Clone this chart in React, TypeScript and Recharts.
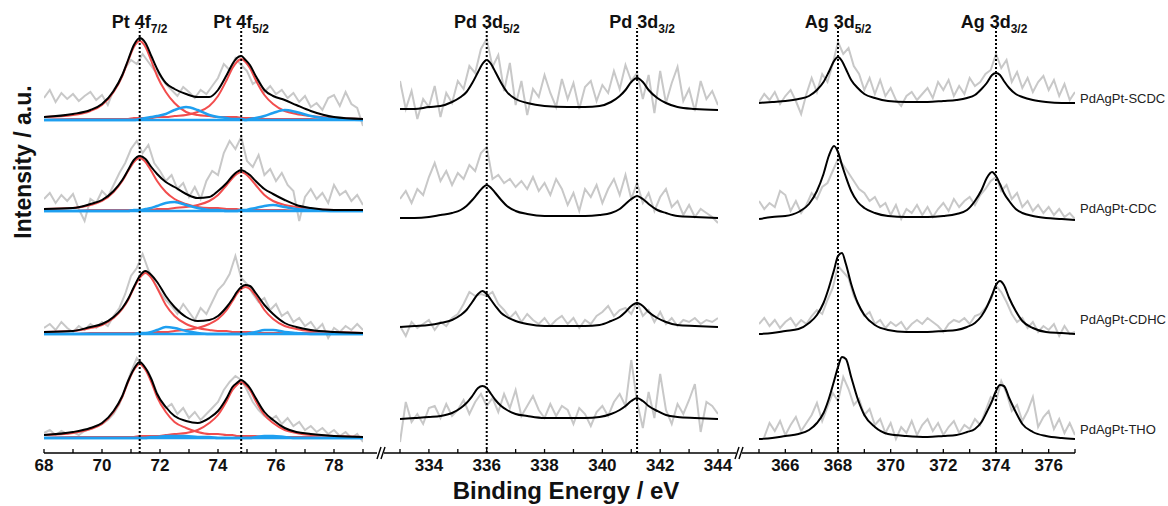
import { LineChart, Line, XAxis, YAxis, ReferenceLine } from "recharts"

const FONT = "'Liberation Sans', Arial, sans-serif"
const GRAY = "#c8c8c8"
const RED = "#f24d4d"
const BLUE = "#1e9ff0"

const sampleNames = ["PdAgPt-SCDC", "PdAgPt-CDC", "PdAgPt-CDHC", "PdAgPt-THO"]

// ---- Pt 4f ----
const ptEnergy = [68, 68.2, 68.4, 68.6, 68.8, 69, 69.2, 69.4, 69.6, 69.8, 70, 70.2, 70.4, 70.6, 70.8, 71, 71.2, 71.4, 71.6, 71.8, 72, 72.2, 72.4, 72.6, 72.8, 73, 73.2, 73.4, 73.6, 73.8, 74, 74.2, 74.4, 74.6, 74.8, 75, 75.2, 75.4, 75.6, 75.8, 76, 76.2, 76.4, 76.6, 76.8, 77, 77.2, 77.4, 77.6, 77.8, 78, 78.2, 78.4, 78.6, 78.8, 79]
const ptOffset = [333, 242, 119, 15]
const ptRaw = [
  [22, 30, 18, 27, 21, 26, 19, 24, 28, 20, 25, 15, 30, 38, 52, 60, 56, 66, 58, 50, 44, 36, 30, 24, 33, 28, 22, 30, 26, 34, 42, 56, 50, 62, 55, 49, 36, 40, 28, 34, 26, 30, 22, 27, 18, 24, 13, 17, 10, 22, 25, 14, 28, 16, 12, -6],
  [12, 18, 8, 16, 10, 17, 2, -10, 12, 8, 20, 14, 26, 38, 48, 62, 70, 58, 66, 48, 40, 30, 36, 22, 28, 14, 24, 12, 30, 40, 36, 58, 70, 62, 74, 50, 44, 56, 36, 42, 30, 38, 26, 20, -10, 14, 22, 12, 18, 8, 26, 16, 20, 10, 16, 6],
  [6, 10, 4, 12, 6, 2, 8, 4, 10, 6, 12, 8, 18, 26, 40, 58, 66, 80, 64, 52, 42, 34, 28, 20, 30, 22, 14, 26, 20, 32, 44, 50, 60, 78, 56, 50, 40, 32, 36, 24, 30, 18, 22, 12, 16, 8, 12, 4, 10, -4, 6, 2, 8, 4, 10, 4],
  [5, 8, 3, 7, 4, 6, 3, 7, 9, 12, 14, 18, 24, 34, 50, 66, 80, 72, 66, 52, 38, 30, 34, 24, 30, 20, 26, 18, 24, 30, 36, 48, 56, 62, 58, 48, 36, 28, 22, 18, 22, 14, 20, 12, 16, 8, 12, 6, 10, 4, 8, 2, 6, 0, 4, -4],
]
const ptFitEnergy = [68, 69, 69.6, 70, 70.4, 70.7, 70.9, 71.1, 71.3, 71.5, 71.7, 71.9, 72.2, 72.5, 72.9, 73.3, 73.7, 74, 74.3, 74.5, 74.65, 74.8, 74.95, 75.1, 75.3, 75.6, 75.9, 76.3, 76.7, 77.2, 78, 79]
const ptFit = [
  [3, 6, 10, 16, 29, 45, 60, 75, 82, 77, 64, 51, 37, 31, 26, 23, 23, 30, 45, 56, 62, 64, 60, 55, 44, 30, 24, 20, 15, 9, 3, 1],
  [2, 3, 7, 11, 20, 31, 41, 51, 55, 52, 44, 37, 29, 24, 17, 13, 14, 20, 28, 35, 39, 41, 39, 36, 30, 22, 17, 11, 6, 3, 1, 1],
  [2, 3, 7, 10, 17, 26, 35, 47, 58, 63, 59, 52, 38, 27, 17, 13, 14, 18, 27, 35, 42, 47, 49, 48, 41, 29, 20, 11, 7, 4, 2, 1],
  [3, 6, 10, 15, 27, 42, 57, 69, 76, 70, 59, 44, 31, 22, 17, 15, 20, 27, 40, 51, 55, 58, 55, 50, 40, 26, 18, 10, 6, 4, 2, 1],
]
const ptRed1 = [
  [3, 5, 9, 15, 28, 44, 59, 73, 79, 73, 59, 44, 28, 17, 8, 5, 4, 3, 3, 3, 3, 2, 2, 2, 2, 1, 1, 1, 1, 1, 0, 0],
  [2, 3, 6, 10, 19, 30, 40, 49, 53, 49, 40, 30, 19, 12, 7, 4, 3, 3, 2, 2, 2, 1, 1, 1, 1, 1, 1, 1, 0, 0, 0, 0],
  [2, 3, 6, 9, 16, 25, 34, 46, 56, 61, 56, 46, 29, 18, 10, 6, 4, 3, 3, 2, 2, 2, 2, 2, 1, 1, 1, 1, 1, 1, 0, 0],
  [3, 5, 9, 14, 26, 41, 56, 68, 74, 68, 56, 41, 26, 16, 10, 6, 4, 4, 3, 3, 2, 2, 2, 2, 2, 1, 1, 1, 1, 1, 0, 0],
]
const ptRed2 = [
  [0, 1, 1, 1, 1, 1, 1, 2, 2, 2, 2, 3, 3, 4, 5, 8, 14, 24, 40, 52, 58, 61, 58, 52, 40, 25, 16, 9, 6, 4, 2, 1],
  [0, 0, 1, 1, 1, 1, 1, 1, 1, 1, 1, 2, 2, 3, 4, 6, 10, 16, 26, 33, 37, 39, 37, 33, 26, 16, 10, 6, 4, 2, 1, 1],
  [0, 0, 1, 1, 1, 1, 1, 1, 1, 1, 1, 2, 2, 3, 4, 6, 10, 15, 24, 33, 40, 45, 47, 45, 38, 24, 15, 8, 5, 3, 2, 1],
  [0, 1, 1, 1, 1, 1, 1, 1, 2, 2, 2, 2, 3, 4, 5, 8, 15, 23, 37, 48, 53, 56, 53, 48, 37, 23, 15, 8, 5, 3, 2, 1],
]
const ptBlue1 = [
  [0, 0, 0, 0, 0, 0, 0, 0, 1, 2, 3, 4, 6, 10, 13, 10, 5, 3, 2, 1, 1, 1, 0, 0, 0, 0, 0, 0, 0, 0, 0, 0],
  [0, 0, 0, 0, 0, 0, 0, 1, 1, 2, 3, 5, 8, 9, 6, 3, 1, 1, 0, 0, 0, 0, 0, 0, 0, 0, 0, 0, 0, 0, 0, 0],
  [0, 0, 0, 0, 0, 0, 0, 0, 1, 1, 2, 4, 7, 6, 3, 1, 0, 0, 0, 0, 0, 0, 0, 0, 0, 0, 0, 0, 0, 0, 0, 0],
  [0, 0, 0, 0, 0, 0, 0, 0, 0, 0, 1, 1, 2, 2, 2, 1, 1, 0, 0, 0, 0, 0, 0, 0, 0, 0, 0, 0, 0, 0, 0, 0],
]
const ptBlue2 = [
  [0, 0, 0, 0, 0, 0, 0, 0, 0, 0, 0, 0, 0, 0, 0, 0, 0, 0, 0, 0, 0, 0, 0, 1, 2, 4, 7, 10, 8, 4, 1, 0],
  [0, 0, 0, 0, 0, 0, 0, 0, 0, 0, 0, 0, 0, 0, 0, 0, 0, 0, 0, 0, 0, 1, 1, 2, 3, 5, 6, 4, 2, 1, 0, 0],
  [0, 0, 0, 0, 0, 0, 0, 0, 0, 0, 0, 0, 0, 0, 0, 0, 0, 0, 0, 0, 0, 0, 0, 1, 2, 4, 4, 2, 1, 0, 0, 0],
  [0, 0, 0, 0, 0, 0, 0, 0, 0, 0, 0, 0, 0, 0, 0, 0, 0, 0, 0, 0, 0, 0, 0, 0, 1, 2, 2, 1, 0, 0, 0, 0],
]
const ptTicks = [68, 69, 70, 71, 72, 73, 74, 75, 76, 77, 78, 79]
const ptPeaks = [
  { x: 71.3, main: "Pt 4f", sub: "7/2", dx: 0 },
  { x: 74.8, main: "Pt 4f", sub: "5/2", dx: 0 },
]

// ---- Pd 3d ----
const pdEnergy = [333, 333.2, 333.4, 333.6, 333.8, 334, 334.2, 334.4, 334.6, 334.8, 335, 335.2, 335.4, 335.6, 335.8, 336, 336.2, 336.4, 336.6, 336.8, 337, 337.2, 337.4, 337.6, 337.8, 338, 338.2, 338.4, 338.6, 338.8, 339, 339.2, 339.4, 339.6, 339.8, 340, 340.2, 340.4, 340.6, 340.8, 341, 341.2, 341.4, 341.6, 341.8, 342, 342.2, 342.4, 342.6, 342.8, 343, 343.2, 343.4, 343.6, 343.8, 344]
const pdOffset = [342, 234, 125, 33]
const pdRaw = [
  [30, 2, 20, -8, 12, 4, 25, -6, 18, 8, 30, 22, 45, 38, 62, 72, 44, 56, 20, 48, 6, 30, -4, 22, 14, 36, 18, 4, 32, 12, 28, 2, 24, 30, 10, 26, 18, 40, 22, 46, 30, 38, 12, 36, -2, 40, 8, 28, 44, 10, 22, 0, 30, 12, 20, 6],
  [20, 28, 16, 30, 24, 42, 56, 38, 48, 34, 46, 40, 54, 48, 66, 72, 40, 44, 36, 40, 32, 38, 30, 42, 28, 36, 24, 40, 30, 14, 26, 8, 30, 22, 34, 16, 30, 40, 24, 44, 20, 36, 16, 26, 8, 22, 30, 12, 18, 4, 14, 2, 10, 6, 2, -4],
  [2, -8, 6, 0, 4, 8, -2, 6, 2, 10, 14, 24, 36, 32, 34, 32, 36, 24, 18, 10, 16, 6, 14, 8, 4, 10, 2, 8, 12, 4, 10, 0, 8, 4, 12, 16, 22, 12, 18, 20, 14, 26, 12, 18, 6, 16, 4, 10, 2, 8, 6, 10, 4, 8, 6, 10],
  [-22, 18, -2, 6, -4, 12, 14, 2, 16, 4, 10, 20, 6, 18, 26, 14, 22, 8, 26, 12, 30, 4, 14, 24, 10, 2, 16, 4, 14, 10, -4, 12, 6, -6, 8, 14, 4, 18, 26, 14, 60, 18, -8, 28, 2, 46, 10, -4, 16, 6, 20, 36, -12, 18, 14, 6],
]
const pdFitEnergy = [333, 333.5, 334, 334.4, 334.8, 335.1, 335.3, 335.5, 335.7, 335.85, 336, 336.15, 336.3, 336.5, 336.7, 337, 337.4, 338, 338.8, 339.4, 339.9, 340.3, 340.6, 340.8, 341, 341.2, 341.4, 341.6, 341.9, 342.2, 342.6, 343.2, 344]
const pdFit = [
  [2, 2, 4, 5, 9, 14, 19, 28, 39, 47, 51, 47, 39, 28, 19, 12, 8, 5, 4, 4, 5, 9, 15, 21, 29, 33, 29, 21, 13, 8, 4, 2, 1],
  [1, 1, 2, 4, 6, 9, 13, 19, 26, 31, 34, 31, 26, 19, 13, 8, 5, 3, 3, 3, 4, 6, 10, 15, 20, 23, 20, 15, 9, 6, 3, 2, 1],
  [1, 2, 3, 5, 8, 13, 18, 26, 34, 37, 34, 28, 22, 15, 11, 7, 4, 2, 2, 2, 3, 7, 11, 16, 22, 25, 22, 16, 10, 6, 3, 2, 1],
  [1, 2, 3, 4, 7, 12, 17, 24, 32, 34, 32, 26, 20, 14, 10, 6, 4, 2, 2, 2, 3, 6, 10, 14, 19, 22, 19, 14, 9, 5, 3, 2, 1],
]
const pdTicks = [333, 334, 335, 336, 337, 338, 339, 340, 341, 342, 343, 344]
const pdPeaks = [
  { x: 336, main: "Pd 3d", sub: "5/2", dx: 0 },
  { x: 341.2, main: "Pd 3d", sub: "3/2", dx: 5 },
]

// ---- Ag 3d ----
const agEnergy = [365, 365.2, 365.4, 365.6, 365.8, 366, 366.2, 366.4, 366.6, 366.8, 367, 367.2, 367.4, 367.6, 367.8, 368, 368.2, 368.4, 368.6, 368.8, 369, 369.2, 369.4, 369.6, 369.8, 370, 370.2, 370.4, 370.6, 370.8, 371, 371.2, 371.4, 371.6, 371.8, 372, 372.2, 372.4, 372.6, 372.8, 373, 373.2, 373.4, 373.6, 373.8, 374, 374.2, 374.4, 374.6, 374.8, 375, 375.2, 375.4, 375.6, 375.8, 376, 376.2, 376.4, 376.6, 376.8, 377]
const agOffset = [349, 232, 117, 12]
const agRaw = [
  [2, 10, 4, 12, 0, 8, 14, 3, -10, 10, 26, 12, 30, 22, 40, 62, 50, 56, 38, 30, 14, 26, 10, 24, 8, 16, 4, -2, 8, 12, 4, 10, 16, 6, 22, 14, 24, 8, 18, 10, 26, 18, 22, 30, 34, 50, 36, 44, 22, 32, 16, 26, 12, 22, 28, 14, 24, 8, 20, 4, 12],
  [20, 12, 18, 14, 30, 26, 10, 20, 8, 16, 28, 22, 34, 38, 50, 62, 56, 48, 40, 32, 28, 20, 24, 14, 18, 6, 16, 2, 12, 8, 16, 6, 14, 4, 12, 18, 10, 22, 14, 20, 24, 16, 26, 32, 40, 44, 30, 36, 22, 28, 14, 20, 10, 16, 8, 14, 6, 12, 4, 8, 2],
  [12, 18, 10, 16, 8, 14, 18, 10, 16, 12, 20, 26, 22, 36, 48, 70, 64, 58, 40, 30, 20, 24, 12, 16, 8, 14, 10, 14, 6, 12, 16, 12, 18, 14, 10, 4, 12, 16, 14, 18, 12, 20, 22, 28, 36, 50, 44, 34, 22, 14, 18, 8, 14, 4, 10, 6, 12, 0, 10, 2, 4],
  [null, 4, 18, 10, 20, 6, 16, 24, 10, 18, 26, 38, 20, 34, 48, 40, 64, 52, 36, 42, 26, 32, 16, 22, 8, 18, 2, 14, 8, 20, 6, 16, 22, 10, 18, 6, 14, 20, 8, 16, 12, 22, 16, 30, 44, 40, 60, 48, 30, 36, 20, 30, 44, 14, 24, 30, 12, 22, 8, 18, 6],
]
const agFitEnergy = [365, 365.5, 366, 366.5, 366.9, 367.2, 367.45, 367.65, 367.85, 368, 368.15, 368.3, 368.5, 368.75, 369, 369.4, 369.9, 370.6, 371.4, 372, 372.5, 372.9, 373.2, 373.45, 373.65, 373.85, 374, 374.15, 374.3, 374.5, 374.75, 375, 375.4, 375.9, 376.5, 377]
const agFit = [
  [1, 2, 3, 5, 8, 14, 22, 32, 43, 47, 43, 35, 24, 16, 10, 6, 3, 2, 2, 3, 4, 6, 9, 15, 21, 29, 31, 29, 23, 16, 10, 7, 4, 2, 1, 1],
  [2, 4, 5, 9, 17, 30, 47, 65, 75, 69, 56, 44, 30, 19, 13, 8, 5, 4, 4, 5, 7, 11, 20, 31, 43, 49, 45, 37, 28, 20, 12, 8, 5, 3, 2, 1],
  [2, 3, 5, 7, 13, 21, 33, 48, 66, 80, 83, 72, 52, 33, 21, 11, 6, 4, 4, 5, 6, 9, 13, 20, 29, 41, 51, 55, 51, 38, 25, 15, 8, 4, 3, 2],
  [2, 3, 5, 7, 11, 18, 28, 42, 60, 74, 84, 82, 64, 42, 26, 14, 7, 5, 4, 5, 6, 9, 12, 19, 29, 40, 50, 56, 55, 43, 29, 17, 9, 5, 3, 2],
]
const agTicks = [365, 366, 367, 368, 369, 370, 371, 372, 373, 374, 375, 376, 377]
const agPeaks = [
  { x: 368, main: "Ag 3d", sub: "5/2", dx: 0 },
  { x: 374, main: "Ag 3d", sub: "3/2", dx: -2 },
]

type Row = Record<string, number | null>

// shift each spectrum up by its stacking offset
const stack = (energy: number[], series: (number | null)[][], offset: number[]): Row[] =>
  energy.map((x, i) => {
    const row: Row = { x }
    series.forEach((s, k) => {
      const v = s[i]
      row["s" + k] = v == null ? null : v + offset[k]
    })
    return row
  })

const ptRawRows = stack(ptEnergy, ptRaw, ptOffset)
const ptFitRows = stack(ptFitEnergy, ptFit, ptOffset)
const ptRed1Rows = stack(ptFitEnergy, ptRed1, ptOffset)
const ptRed2Rows = stack(ptFitEnergy, ptRed2, ptOffset)
const ptBlue1Rows = stack(ptFitEnergy, ptBlue1, ptOffset)
const ptBlue2Rows = stack(ptFitEnergy, ptBlue2, ptOffset)
const pdRawRows = stack(pdEnergy, pdRaw, pdOffset)
const pdFitRows = stack(pdFitEnergy, pdFit, pdOffset)
const agRawRows = stack(agEnergy, agRaw, agOffset)
const agFitRows = stack(agFitEnergy, agFit, agOffset)

const Y_DOMAIN: [number, number] = [0, 425]
const CHART_H = 506
const keys = ["s0", "s1", "s2", "s3"]

const EnergyTick = (props: any) => {
  const { x, y, payload } = props
  const v = Number(payload.value)
  return (
    <g>
      <line x1={x} x2={x} y1={y} y2={y - 4} stroke="#000" strokeWidth={1.3} />
      {v % 2 === 0 && (
        <text x={x} y={y + 18} textAnchor="middle" fontSize={17} fontWeight={700} fill="#111" fontFamily={FONT}>
          {v}
        </text>
      )}
    </g>
  )
}

const PeakLabel = (props: any) => {
  const { viewBox, main, sub, dx } = props
  if (!viewBox) return null
  return (
    <text x={viewBox.x + (dx || 0)} y={viewBox.y} textAnchor="middle" fontFamily={FONT} fontWeight={700} fill="#111">
      <tspan fontSize={18}>{main}</tspan>
      <tspan fontSize={12} dy={5}>{sub}</tspan>
    </text>
  )
}

const lines = (rows: Row[], color: string, width: number, prefix: string, curve: "linear" | "monotone") =>
  keys.map((k) => (
    <Line
      key={prefix + k}
      data={rows}
      dataKey={k}
      type={curve}
      stroke={color}
      strokeWidth={width}
      dot={false}
      activeDot={false}
      connectNulls={false}
      isAnimationActive={false}
    />
  ))

const peakLines = (peaks: { x: number; main: string; sub: string; dx: number }[]) =>
  peaks.map((p) => (
    <ReferenceLine
      key={"ref" + p.x}
      x={p.x}
      stroke="#000"
      strokeWidth={2}
      strokeDasharray="2 2"
      label={<PeakLabel main={p.main} sub={p.sub} dx={p.dx} />}
    />
  ))

const xAxisProps = {
  type: "number" as const,
  dataKey: "x",
  allowDataOverflow: true,
  interval: 0 as const,
  tickSize: 0,
  tickMargin: 0,
  tickLine: false,
  height: 53,
  tick: <EnergyTick />,
  axisLine: { stroke: "#000", strokeWidth: 1.5 },
}

export default function App() {
  return (
    <div style={{ position: "absolute", left: 0, top: 0, width: 1168, height: 506, background: "#fff", fontFamily: FONT }}>
      <div style={{ position: "absolute", left: 0, top: 0 }}>
        <LineChart width={377} height={CHART_H} margin={{ top: 28, right: 0, bottom: 0, left: 44 }}>
          <XAxis {...xAxisProps} domain={[68, 79]} ticks={ptTicks} padding={{ left: 0, right: 14 }} />
          <YAxis
            type="number"
            domain={Y_DOMAIN}
            allowDataOverflow
            width={0}
            tick={false}
            tickLine={false}
            axisLine={{ stroke: "#555", strokeWidth: 2 }}
          />
          {lines(ptRawRows, GRAY, 2, "raw", "linear")}
          {lines(ptRed1Rows, RED, 2, "r1", "monotone")}
          {lines(ptRed2Rows, RED, 2, "r2", "monotone")}
          {lines(ptBlue1Rows, BLUE, 2.5, "b1", "monotone")}
          {lines(ptBlue2Rows, BLUE, 2.5, "b2", "monotone")}
          {lines(ptFitRows, "#000", 2, "fit", "monotone")}
          {peakLines(ptPeaks)}
        </LineChart>
      </div>

      <div style={{ position: "absolute", left: 384, top: 0 }}>
        <LineChart width={352} height={CHART_H} margin={{ top: 28, right: 0, bottom: 0, left: 0 }}>
          <XAxis {...xAxisProps} domain={[333, 344]} ticks={pdTicks} padding={{ left: 16, right: 18 }} />
          <YAxis type="number" domain={Y_DOMAIN} allowDataOverflow width={0} hide />
          {lines(pdRawRows, GRAY, 2, "raw", "linear")}
          {lines(pdFitRows, "#000", 2, "fit", "monotone")}
          {peakLines(pdPeaks)}
        </LineChart>
      </div>

      <div style={{ position: "absolute", left: 742, top: 0 }}>
        <LineChart width={336} height={CHART_H} margin={{ top: 28, right: 3, bottom: 0, left: 0 }}>
          <XAxis {...xAxisProps} domain={[365, 377]} ticks={agTicks} padding={{ left: 17, right: 0 }} />
          <YAxis type="number" domain={Y_DOMAIN} allowDataOverflow width={0} hide />
          {lines(agRawRows, GRAY, 2, "raw", "linear")}
          {lines(agFitRows, "#000", 2, "fit", "monotone")}
          {peakLines(agPeaks)}
        </LineChart>
      </div>

      <svg width={1168} height={506} style={{ position: "absolute", left: 0, top: 0, pointerEvents: "none" }}>
        <g stroke="#000" strokeWidth={1.4}>
          <line x1={377} y1={459} x2={381} y2={447} />
          <line x1={381} y1={459} x2={385} y2={447} />
          <line x1={735} y1={459} x2={739} y2={447} />
          <line x1={739} y1={459} x2={743} y2={447} />
        </g>
        <text
          x={31}
          y={162}
          transform="rotate(-90, 31, 162)"
          textAnchor="middle"
          fontSize={23}
          fontWeight={700}
          fill="#111"
          fontFamily={FONT}
        >
          Intensity / a.u.
        </text>
        <text x={566} y={499} textAnchor="middle" fontSize={24} fontWeight={700} fill="#111" fontFamily={FONT}>
          Binding Energy / eV
        </text>
        {sampleNames.map((name, i) => (
          <text key={name} x={1080} y={[103, 213, 324, 434][i]} fontSize={13} fill="#222" fontFamily={FONT}>
            {name}
          </text>
        ))}
      </svg>
    </div>
  )
}
